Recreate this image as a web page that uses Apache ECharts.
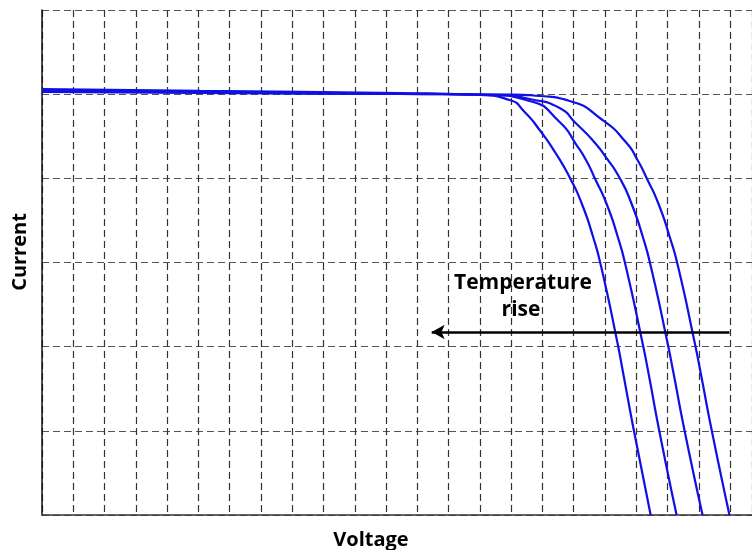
<!DOCTYPE html>
<html>
<head>
<meta charset="utf-8">
<title>I-V curves vs temperature</title>
<script src="https://cdn.jsdelivr.net/npm/echarts@6/dist/echarts.min.js"></script>
<style>
  html, body { margin: 0; padding: 0; background: #fff; }
  #chart { width: 752px; height: 550px; }
</style>
</head>
<body>
<div id="chart"></div>
<script>
// Voltage / current samples for the four I-V curves (arbitrary grid units),
// ordered from the hottest module (lowest open-circuit voltage) to the coolest.
const curveHot = [
  [0, 5.061], [5.05, 5.038], [11.44, 5.014], [13.99, 4.990], [14.95, 4.931],
  [15.43, 4.788], [15.91, 4.574], [16.42, 4.301], [16.88, 4.004], [17.25, 3.707],
  [17.62, 3.303], [17.88, 2.946], [18.38, 2.079], [18.58, 1.687], [18.92, 1.010],
  [19.46, 0]
];
const curveWarm = [
  [0, 5.049], [5.05, 5.026], [11.44, 5.008], [14.31, 4.990], [15.59, 4.919],
  [16.55, 4.669], [17.09, 4.396], [17.41, 4.206], [17.67, 4.004], [18.04, 3.707],
  [18.41, 3.303], [18.67, 2.946], [19.18, 2.079], [19.39, 1.687], [19.73, 1.010],
  [20.29, 0]
];
const curveMild = [
  [0, 5.038], [5.05, 5.020], [11.44, 5.002], [14.63, 4.990], [15.59, 4.942],
  [16.55, 4.835], [17.06, 4.657], [17.60, 4.455], [18.05, 4.241], [18.47, 4.004],
  [18.84, 3.707], [19.21, 3.303], [19.47, 2.946], [19.98, 2.079], [20.19, 1.687],
  [20.54, 1.010], [21.12, 0]
];
const curveCool = [
  [0, 5.026], [5.05, 5.014], [11.44, 5.002], [14.95, 4.996], [15.91, 4.978],
  [16.87, 4.919], [17.92, 4.693], [18.69, 4.420], [19.04, 4.218], [19.33, 4.004],
  [19.70, 3.707], [20.07, 3.303], [20.34, 2.946], [20.85, 2.079], [21.06, 1.687],
  [21.41, 1.010], [21.98, 0]
];
const curves = [curveHot, curveWarm, curveMild, curveCool];

// Temperature-rise arrow: from start voltage to end voltage at a fixed current
const arrowFrom = [21.98, 2.174];
const arrowTo = [12.46, 2.174];

const chart = echarts.init(document.getElementById('chart'), null, { renderer: 'canvas' });

const series = curves.map((pts, i) => ({
  type: 'line',
  data: pts,
  smooth: 0.6,
  symbol: 'none',
  lineStyle: { color: '#1010e6', width: 2.2 },
  z: 3,
  markLine: i === 0 ? {
    silent: true,
    symbol: ['none', 'arrow'],
    symbolSize: [11, 13],
    label: { show: false },
    lineStyle: { color: '#000', width: 2.5, type: 'solid' },
    data: [[{ coord: arrowFrom }, { coord: arrowTo }]]
  } : undefined
}));

chart.setOption({
  animation: false,
  backgroundColor: '#fff',
  grid: { left: 42, right: 0, top: 10, bottom: 35 },
  xAxis: {
    type: 'value', min: 0, max: 22.7, interval: 1,
    axisLine: { show: true, onZero: false, lineStyle: { color: '#333', width: 1.5 } },
    axisTick: { show: false },
    axisLabel: { show: false },
    splitLine: { show: true, lineStyle: { color: '#333', width: 1.2, type: [7, 4] } }
  },
  yAxis: {
    type: 'value', min: 0, max: 6, interval: 1,
    axisLine: { show: true, onZero: false, lineStyle: { color: '#111', width: 1.5 } },
    axisTick: { show: false },
    axisLabel: { show: false },
    splitLine: { show: true, lineStyle: { color: '#555', width: 1.2, type: [7, 4] } }
  },
  graphic: [
    {
      type: 'text', x: 20, y: 252, rotation: Math.PI / 2,
      style: { text: 'Current', font: 'bold 20px "Open Sans"', fill: '#000', align: 'center', verticalAlign: 'middle' }
    },
    {
      type: 'text', x: 371, y: 540,
      style: { text: 'Voltage', font: 'bold 20px "Open Sans"', fill: '#000', align: 'center', verticalAlign: 'middle' }
    },
    {
      type: 'text', x: 523, y: 283, z: 10,
      style: { text: 'Temperature', font: 'bold 21px "Open Sans"', fill: '#000', align: 'center', verticalAlign: 'middle' }
    },
    {
      type: 'text', x: 521, y: 310, z: 10,
      style: { text: 'rise', font: 'bold 21px "Open Sans"', fill: '#000', align: 'center', verticalAlign: 'middle' }
    }
  ],
  series: series
});
</script>
</body>
</html>
